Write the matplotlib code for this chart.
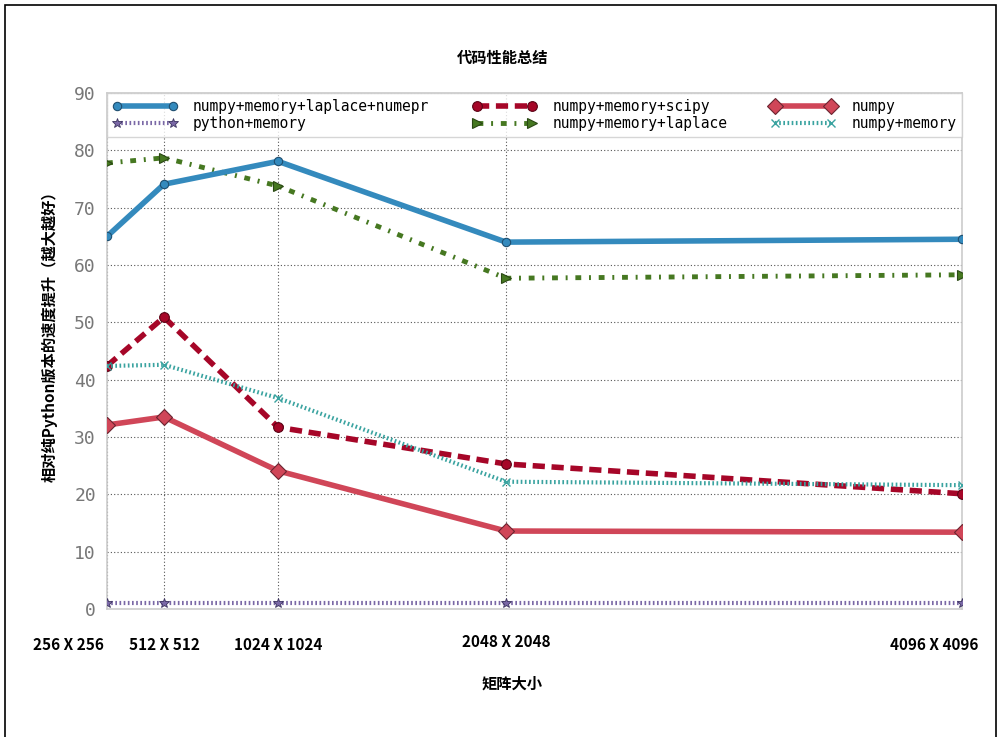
import matplotlib
matplotlib.use('Agg')
import matplotlib.pyplot as plt
import matplotlib.transforms as mtransforms
from matplotlib.patches import Rectangle

# data
sizes = [256, 512, 1024, 2048, 4096]
size_labels = ['256 X 256', '512 X 512', '1024 X 1024', '2048 X 2048', '4096 X 4096']
numepr = [65.0, 74.1, 78.1, 64.0, 64.5]
python_memory = [1.0, 1.0, 1.0, 1.0, 1.0]
scipy_ver = [42.4, 50.9, 31.7, 25.3, 20.1]
laplace = [77.8, 78.7, 73.8, 57.7, 58.3]
numpy_ver = [32.1, 33.5, 24.1, 13.6, 13.4]
numpy_memory = [42.4, 42.6, 36.8, 22.2, 21.6]

plt.rcParams['font.family'] = ['Noto Sans CJK SC', 'DejaVu Sans']

fig = plt.figure(figsize=(10, 7.37), dpi=100)
fig.patches.append(Rectangle((0.005, -0.01), 0.991, 1.003,
                             transform=fig.transFigure, fill=False,
                             edgecolor='black', linewidth=1.2))
ax = fig.add_axes([0.107, 0.1737, 0.855, 0.700])

# plot in legend order (3 columns, filled column-wise)
ax.plot(sizes, numepr, color='#348ABD', lw=4, marker='o', ms=6,
        mec='#1f4f70', mew=0.8, label='numpy+memory+laplace+numepr', zorder=5)
ax.plot(sizes, python_memory, color='#7A68A6', lw=3, ls=(0, (0.4, 0.6)), marker='*', ms=7,
        mec='#3d3460', mew=0.6, label='python+memory', zorder=4)
ax.plot(sizes, scipy_ver, color='#A60628', lw=4, ls=(0, (2.2, 1.2)), marker='o', ms=7,
        mec='#5a0315', mew=0.8, label='numpy+memory+scipy', zorder=4)
ax.plot(sizes, laplace, color='#467821', lw=3.5, ls=(0, (1.2, 1.6, 0.4, 1.6)), marker='>', ms=7,
        mec='#2a4814', mew=0.8, label='numpy+memory+laplace', zorder=4)
ax.plot(sizes, numpy_ver, color='#D04658', lw=4, marker='D', ms=8,
        mec='#6b2430', mew=0.8, label='numpy', zorder=4)
ax.plot(sizes, numpy_memory, color='#3AA3A0', lw=3, ls=(0, (0.4, 0.6)), marker='x', ms=6,
        mec='#3AA3A0', mew=1.0, label='numpy+memory', zorder=4)

ax.set_xlim(256, 4096)
ax.set_ylim(0, 90)
ax.set_yticks(range(0, 91, 10))
ax.set_xticks(sizes)
ax.set_xticklabels(size_labels, fontsize=11, fontweight='bold', color='black')
ax.tick_params(axis='x', length=0, pad=20)
ax.tick_params(axis='y', length=0, pad=8, labelsize=13, labelcolor='#777777')
for lab in ax.get_yticklabels():
    lab.set_family('DejaVu Sans Mono')

# shift the end labels like in the original
xl = ax.get_xticklabels()
xl[0].set_transform(xl[0].get_transform() + mtransforms.ScaledTranslation(-0.39, 0, fig.dpi_scale_trans))
xl[-1].set_transform(xl[-1].get_transform() + mtransforms.ScaledTranslation(-0.28, 0, fig.dpi_scale_trans))
xl[3].set_transform(xl[3].get_transform() + mtransforms.ScaledTranslation(0, 0.03, fig.dpi_scale_trans))

ax.grid(True, ls=(0, (1, 2)), color='#555555', lw=0.8)
ax.set_axisbelow(True)
for sp in ax.spines.values():
    sp.set_color('#cccccc')
    sp.set_linewidth(1.2)

leg = ax.legend(loc='upper center', ncol=3, mode='expand', bbox_to_anchor=(0, 0, 1, 1),
                prop={'family': 'DejaVu Sans Mono', 'size': 10.5}, frameon=True,
                fancybox=False, borderaxespad=0, handlelength=4.4, numpoints=2,
                labelspacing=0.15, borderpad=0.4, columnspacing=1.0, handletextpad=1.1)
leg.get_frame().set_edgecolor('#cccccc')
leg.get_frame().set_linewidth(1.0)

fig.text(0.503, 0.921, '代码性能总结', ha='center', va='center', fontsize=11, fontweight='bold')
fig.text(0.512, 0.072, '矩阵大小', ha='center', va='center', fontsize=11, fontweight='bold')
fig.text(0.05, 0.548, '相对纯Python版本的速度提升（越大越好）', ha='center', va='center',
         rotation=90, fontsize=11, fontweight='bold')

fig.savefig('out.png', dpi=100)
